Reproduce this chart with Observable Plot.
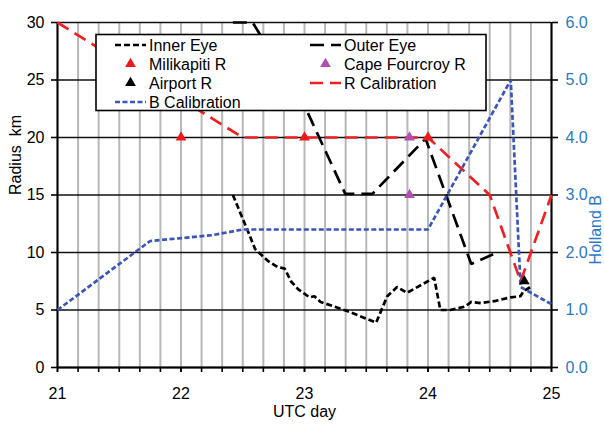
<!DOCTYPE html>
<html>
<head>
<meta charset="utf-8">
<script src="https://cdn.jsdelivr.net/npm/d3@7"></script>
<script src="https://cdn.jsdelivr.net/npm/@observablehq/plot@0.6"></script>
<style>
  body { margin: 0; background: #fff; }
  #chart { width: 604px; height: 425px; }
</style>
</head>
<body>
<div id="chart"></div>
<script>
// Inner eye radius (km) by UTC day
const innerEyeDay = [22.42, 22.54, 22.60, 22.70, 22.78, 22.84, 22.89, 22.95, 23.04, 23.08, 23.13, 23.35, 23.58, 23.67, 23.75, 23.83, 24.05, 24.10, 24.18, 24.30, 24.35, 24.43, 24.55, 24.67, 24.75, 24.77, 24.83];
const innerEyeKm  = [15.0, 11.9, 10.3, 9.3, 8.75, 8.6, 7.5, 6.8, 6.1, 6.2, 5.7, 4.9, 3.9, 6.2, 7.0, 6.5, 7.8, 5.0, 5.0, 5.3, 5.7, 5.6, 5.8, 6.1, 6.2, 6.6, 7.0];

// Outer eye radius (km)
const outerEyeDay = [22.42, 22.58, 23.02, 23.33, 23.55, 23.98, 24.35, 24.56];
const outerEyeKm  = [30.0, 30.0, 22.3, 15.1, 15.1, 19.9, 9.0, 10.0];

// Radar-derived radii (km)
const milikapitiDay = [22, 23, 24];
const milikapitiKm  = [20, 20, 20];
const capeFourcroyDay = [23.85, 23.85];
const capeFourcroyKm  = [20, 15];
const airportDay = [24.78];
const airportKm  = [7.5];

// Calibrated radius of maximum winds (km)
const rCalDay = [21, 22.5, 24, 24.5, 24.75, 25];
const rCalKm  = [30, 20, 20, 15, 7.5, 15];

// Calibrated Holland B parameter (right axis)
const bCalDay = [21, 21.75, 22.25, 22.5, 24, 24.67, 24.75, 25];
const bCalB   = [1.0, 2.2, 2.3, 2.4, 2.4, 5.0, 1.4, 1.1];

// Axis ticks
const dayTicks = [21, 22, 23, 24, 25];
const kmTicks  = [0, 5, 10, 15, 20, 25, 30];
const bPerKm = 6 / 30; // right axis spans 0–6 over the 0–30 km range

const legendItems = [
  {name: "Inner Eye",       col: 0, row: 0, kind: "line", stroke: "#000",    dash: "6,3"},
  {name: "Outer Eye",       col: 1, row: 0, kind: "line", stroke: "#000",    dash: "14,7"},
  {name: "Milikapiti R",    col: 0, row: 1, kind: "tri",  fill: "#f01818"},
  {name: "Cape Fourcroy R", col: 1, row: 1, kind: "tri",  fill: "#b050b0"},
  {name: "Airport R",       col: 0, row: 2, kind: "tri",  fill: "#000"},
  {name: "R Calibration",   col: 1, row: 2, kind: "line", stroke: "#f02020", dash: "13,7"},
  {name: "B Calibration",   col: 0, row: 3, kind: "line", stroke: "#3a56b8", dash: "5,2.5"}
];

const font = "'Liberation Sans', Arial, sans-serif";
const blueText = "#2a78c8";
const fourHours = d3.range(0, 25).map(i => 21 + i / 6);
const lineStyle = {strokeWidth: 2.7, strokeLinecap: "butt", strokeLinejoin: "miter"};

const chart = Plot.plot({
  width: 604,
  height: 425,
  marginLeft: 57,
  marginRight: 53,
  marginTop: 22,
  marginBottom: 58,
  x: {domain: [21, 25]},
  y: {domain: [0, 30]},
  style: {fontFamily: font, fontSize: "16px", background: "#fff", color: "#000"},
  marks: [
    // grid
    Plot.gridX(fourHours, {stroke: "#b8b8b8", strokeOpacity: 1, strokeWidth: 2}),
    Plot.gridY(kmTicks, {stroke: "#111", strokeOpacity: 1, strokeWidth: 1.6}),
    // axes
    Plot.axisX(fourHours, {tickSize: 5, tickFormat: () => "", label: null, strokeWidth: 1.6}),
    Plot.axisX(dayTicks, {tickSize: 5, tickPadding: 15, label: null, fontSize: 16, strokeWidth: 1.6,
      tickFormat: d => String(d)}),
    Plot.axisY(kmTicks, {anchor: "left", tickSize: 6, tickPadding: 7, label: null, fontSize: 16, strokeWidth: 1.6,
      tickFormat: d => String(d)}),
    Plot.axisY(kmTicks, {anchor: "right", tickSize: 6, tickPadding: 8, label: null, fontSize: 16,
      tickFormat: d => (d * bPerKm).toFixed(1), fill: blueText, stroke: "#000", strokeWidth: 1.6}),
    Plot.ruleX([21, 25], {stroke: "#000", strokeWidth: 2}),
    Plot.ruleY([0], {stroke: "#000", strokeWidth: 2}),
    // axis titles
    Plot.text(["UTC day"], {frameAnchor: "bottom", dy: 49, fontSize: 16, fill: "#000"}),
    Plot.text(["Radius  km"], {frameAnchor: "left", dx: -42, rotate: -90, fontSize: 16, fill: "#000"}),
    Plot.text(["Holland B"], {frameAnchor: "right", dx: 44, rotate: -90, fontSize: 16, fill: blueText}),
    // series
    Plot.line(innerEyeKm, {x: innerEyeDay, y: innerEyeKm, stroke: "#000", strokeDasharray: "6,3", ...lineStyle}),
    Plot.line(outerEyeKm, {x: outerEyeDay, y: outerEyeKm, stroke: "#000", strokeDasharray: "14,7", ...lineStyle}),
    Plot.line(rCalKm, {x: rCalDay, y: rCalKm, stroke: "#f02020", strokeDasharray: "13,7", ...lineStyle}),
    Plot.line(bCalB, {x: bCalDay, y: bCalB.map(b => b / bPerKm), stroke: "#3a56b8", strokeDasharray: "5,2.5", ...lineStyle}),
    Plot.dot(milikapitiKm, {x: milikapitiDay, y: milikapitiKm, symbol: "triangle", r: 4, fill: "#f01818", stroke: "none"}),
    Plot.dot(capeFourcroyKm, {x: capeFourcroyDay, y: capeFourcroyKm, symbol: "triangle", r: 4, fill: "#b050b0", stroke: "none"}),
    Plot.dot(airportKm, {x: airportDay, y: airportKm, symbol: "triangle", r: 4, fill: "#000", stroke: "none"})
  ]
});

document.getElementById("chart").appendChild(chart);

// Legend box drawn inside the plot area, on top of the series
const svg = d3.select(chart);
const lg = svg.append("g").attr("font-family", font).attr("font-size", 16).attr("text-anchor", "start");
lg.append("rect")
  .attr("x", 96).attr("y", 34.5).attr("width", 390).attr("height", 76)
  .attr("fill", "#fff").attr("stroke", "#000").attr("stroke-width", 1.6);
const colX = [115, 310];
const rowY = [45, 64, 83, 102];
const tri = d3.symbol(d3.symbolTriangle, Math.PI * 16)();
for (const it of legendItems) {
  const x0 = colX[it.col], y0 = rowY[it.row];
  const g = lg.append("g");
  if (it.kind === "line") {
    g.append("line").attr("x1", x0).attr("x2", x0 + 31).attr("y1", y0).attr("y2", y0)
      .attr("stroke", it.stroke).attr("stroke-width", 2.7).attr("stroke-dasharray", it.dash);
  } else {
    g.append("path").attr("d", tri).attr("transform", `translate(${x0 + 15.5},${y0})`).attr("fill", it.fill);
  }
  g.append("text").attr("x", x0 + 34).attr("y", y0).attr("dy", "0.36em").attr("fill", "#000").text(it.name);
}
</script>
</body>
</html>
